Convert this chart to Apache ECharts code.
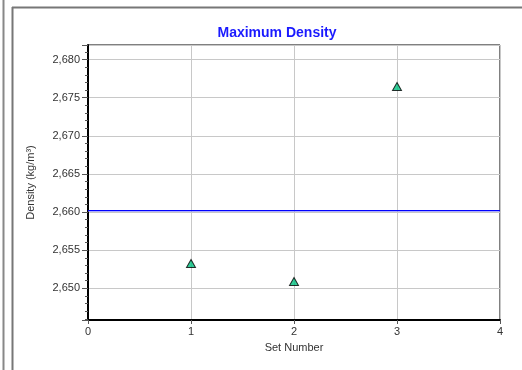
<!DOCTYPE html>
<html>
<head>
<meta charset="utf-8">
<script src="https://cdn.jsdelivr.net/npm/echarts@6/dist/echarts.min.js"></script>
<style>
  html, body { margin: 0; padding: 0; background: #fff; }
  #chart { width: 522px; height: 370px; }
</style>
</head>
<body>
<div id="chart"></div>
<script>
// 資料
const setNumbers = [1, 2, 3];
const densities = [2653.25, 2650.9, 2676.45];
const yStep = 5; // 主刻度間距 (kg/m³)

const chart = echarts.init(document.getElementById('chart'));

const points = setNumbers.map((x, i) => [x, densities[i]]);

const labelFont = { fontFamily: 'Arial, "Liberation Sans", sans-serif', fontSize: 11, color: '#333' };

chart.setOption({
  backgroundColor: '#fff',
  animation: false,
  title: {
    text: 'Maximum Density',
    left: 272,
    top: 21,
    textAlign: 'center',
    textStyle: {
      color: '#1a1aff',
      fontSize: 14,
      fontWeight: 'bold',
      fontFamily: 'Arial, "Liberation Sans", sans-serif'
    }
  },
  // 外框線
  graphic: [
    { type: 'line', shape: { x1: 3.5, y1: 0, x2: 3.5, y2: 370 }, style: { stroke: '#888', lineWidth: 2 } },
    { type: 'line', shape: { x1: 12.5, y1: 7, x2: 12.5, y2: 370 }, style: { stroke: '#777', lineWidth: 2 } },
    { type: 'line', shape: { x1: 12, y1: 7.5, x2: 522, y2: 7.5 }, style: { stroke: '#777', lineWidth: 2 } }
  ],
  grid: {
    left: 88,
    top: 45,
    right: 22,
    bottom: 50,
    show: true,
    borderColor: '#000',
    borderWidth: 1,
    backgroundColor: '#fff'
  },
  xAxis: {
    type: 'value',
    min: 0,
    max: 4,
    interval: 1,
    name: 'Set Number',
    nameLocation: 'middle',
    nameGap: 22,
    nameTextStyle: labelFont,
    axisLine: { show: true, onZero: false, lineStyle: { color: '#000', width: 2 } },
    axisTick: { show: true, length: 4, lineStyle: { color: '#555' } },
    axisLabel: Object.assign({ margin: 6 }, labelFont),
    splitLine: { show: true, lineStyle: { color: '#c8c8c8', width: 1 } }
  },
  yAxis: {
    type: 'value',
    min: 2645.85,
    max: 2681.9,
    // 不設 interval，用 min/maxInterval 讓刻度落在 5 的倍數
    splitNumber: 7,
    minInterval: yStep,
    maxInterval: yStep,
    name: 'Density (kg/m³)',
    nameLocation: 'middle',
    nameGap: 52,
    nameRotate: 90,
    nameTextStyle: labelFont,
    axisLine: { show: true, onZero: false, lineStyle: { color: '#000', width: 2 } },
    axisTick: { show: true, length: 6, lineStyle: { color: '#555' } },
    minorTick: { show: true, splitNumber: 5, length: 3, lineStyle: { color: '#555' } },
    axisLabel: Object.assign({
      margin: 8,
      showMinLabel: false,
      showMaxLabel: false,
      formatter: (v) => v % yStep === 0 ? v.toLocaleString('en-US') : ''
    }, labelFont),
    splitLine: { show: true, lineStyle: { color: '#c8c8c8', width: 1 } }
  },
  series: [
    {
      type: 'scatter',
      data: points,
      symbol: 'triangle',
      symbolSize: [9, 8],
      itemStyle: { color: '#00c080', borderColor: '#000', borderWidth: 1 },
      // 平均值線
      markLine: {
        silent: true,
        symbol: 'none',
        label: { show: false },
        lineStyle: {
          color: '#0000ff',
          width: 1,
          type: 'solid',
          shadowColor: 'rgba(120,120,255,0.6)',
          shadowOffsetY: 1
        },
        data: [{ type: 'average', valueIndex: 1 }]
      }
    }
  ]
});
</script>
</body>
</html>
